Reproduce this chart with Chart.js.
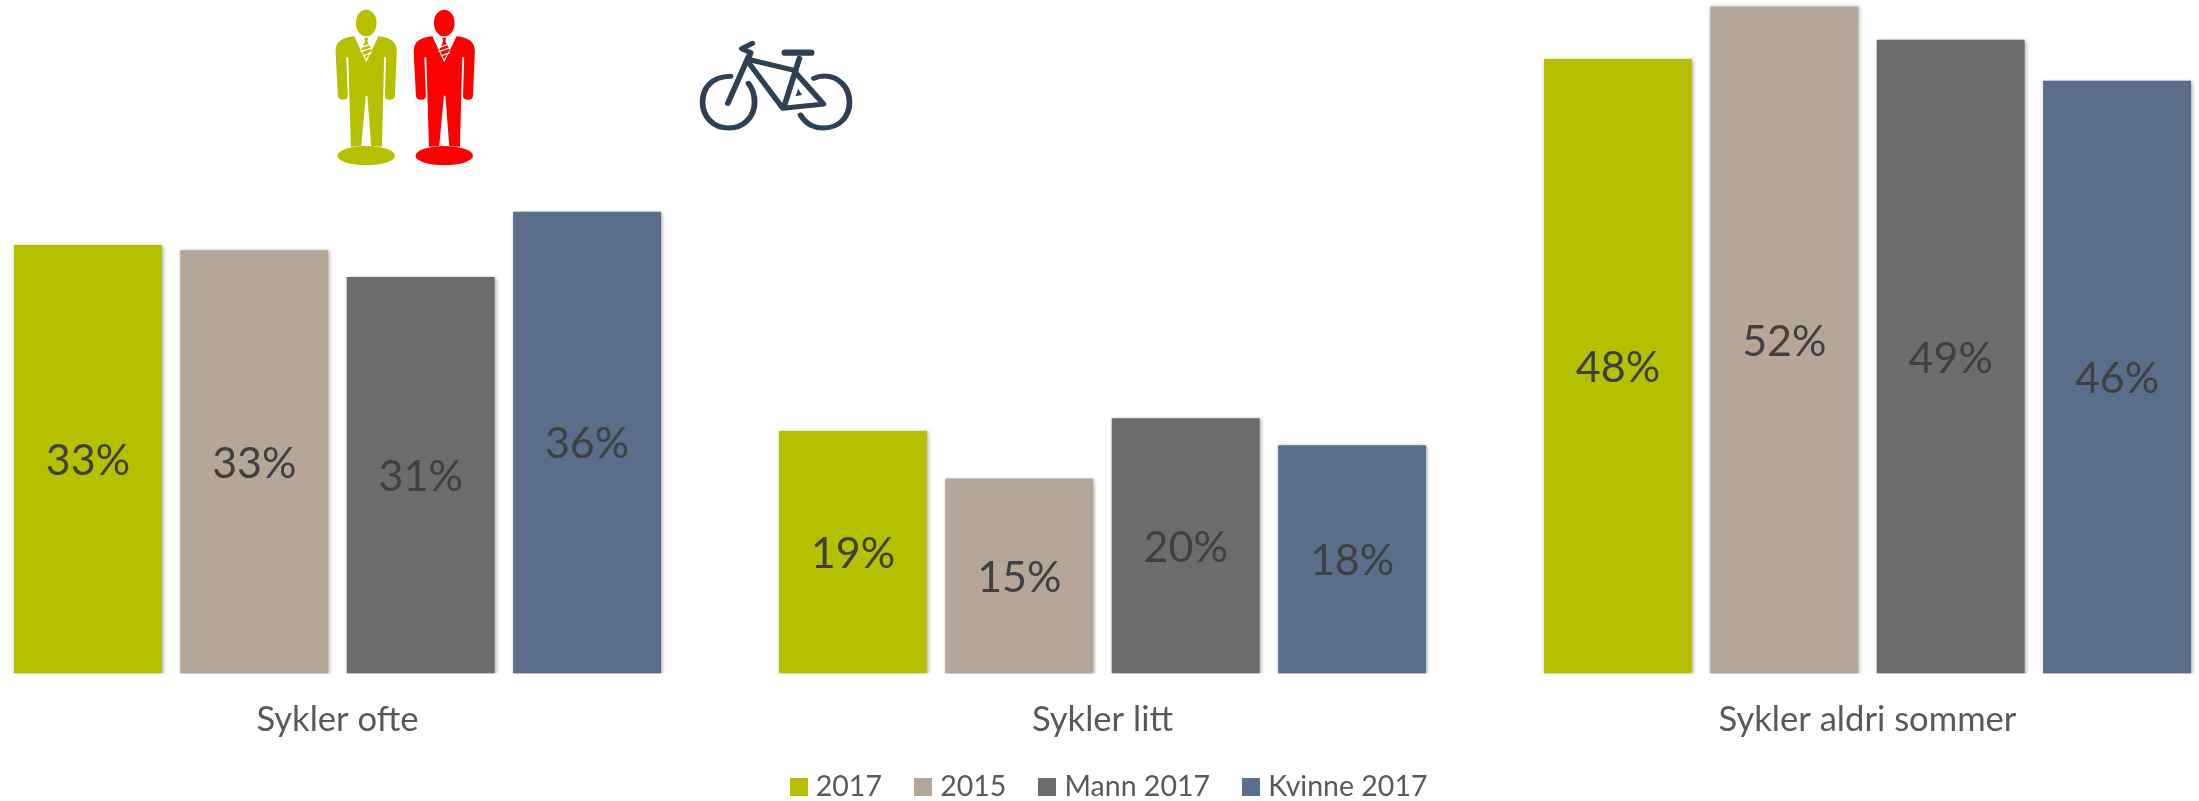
<!DOCTYPE html>
<html><head><meta charset="utf-8">
<script src="https://cdn.jsdelivr.net/npm/chart.js@4"></script>
<style>
html,body{margin:0;padding:0;background:#fff;width:2199px;height:801px;overflow:hidden}
#wrap{position:absolute;left:-45px;top:0;width:2295px;height:801px;overflow:hidden}
#ico{position:absolute;left:300px;top:0;width:600px;height:180px}
</style></head><body>
<div id="wrap"><canvas id="c" width="2295" height="807"></canvas></div>
<svg id="ico" viewBox="0 0 1568 540" preserveAspectRatio="none">
<defs><g id="man">
<ellipse cx="173" cy="69" rx="27" ry="40"/>
<path d="M142 109C110 112 93 125 93 155L99 288Q100 299 112 299Q125 299 125 288L121 172L126 172L133 440L160 438L172 287L176 287L186 438L214 440L220 172L225 172L222 288Q222 299 235 299Q248 299 248 288L253 155C253 125 236 112 205 109L173 187Z"/>
<path d="M168 113L178 113L176 124L187 150L173 178L160 150L170 124Z"/>
<path d="M160 142L186 132M158 155L190 143M164 168L187 158" stroke="#fff" stroke-width="4" fill="none"/>
<ellipse cx="173" cy="467" rx="75" ry="29"/>
</g></defs>
<use href="#man" fill="#b5c000"/>
<use href="#man" x="204" fill="#ff0000"/>
<g fill="none" stroke="#2e4053" stroke-width="15" stroke-linecap="round" stroke-linejoin="round">
<path d="M1125 229C1075 230 1052 265 1052 306C1052 350 1080 384 1120 384C1160 384 1188 350 1188 306C1188 285 1182 265 1172 250"/>
<path d="M1343 235C1355 228 1362 228 1370 228C1410 228 1436 265 1436 306C1436 350 1410 384 1367 384C1340 384 1320 368 1308 345"/>
<path d="M1118 310L1172 170"/>
<path d="M1182 130L1155 146L1178 158L1172 175"/>
<path d="M1178 180L1295 212"/>
<path d="M1305 175L1265 320"/>
<path d="M1175 192L1262 325L1368 312L1298 222"/>
<path d="M1268 158L1335 158" stroke-width="19"/>
</g>
<path d="M1302 266L1312 285L1295 289Z" fill="#2e4053"/>
</svg>
<script>
const categories = ["Sykler ofte", "Sykler litt", "Sykler aldri sommer"];
const seriesNames = ["2017", "2015", "Mann 2017", "Kvinne 2017"];
const values2017 = [33.4, 18.9, 47.9];
const values2015 = [33.0, 15.2, 52.0];
const valuesMann2017 = [30.9, 19.9, 49.4];
const valuesKvinne2017 = [36.0, 17.8, 46.2];
const seriesColors = ["#b5c000", "#b5a698", "#6b6c6e", "#5a6e8c"];
const seriesValues = [values2017, values2015, valuesMann2017, valuesKvinne2017];

function swatch(color){
  const s = document.createElement("canvas"); s.width = 18; s.height = 18;
  const g = s.getContext("2d"); g.fillStyle = color; g.fillRect(0,0,18,18);
  return s;
}

const barEffects = {
  id: "barEffects",
  afterLayout(chart){
    chart.scales.x.bottom += 14;
    chart.legend.left += 9; chart.legend.right += 9;
    chart.legend.top += 4; chart.legend.bottom += 4;
  },
  beforeDatasetsDraw(chart){
    const x = chart.ctx; x.save();
    x.shadowColor = "rgba(0,0,0,0.35)"; x.shadowBlur = 4; x.shadowOffsetX = 1; x.shadowOffsetY = 1;
  },
  afterDatasetsDraw(chart){
    const x = chart.ctx; x.restore(); x.save();
    x.font = "43px Lato"; x.fillStyle = "#404040"; x.textAlign = "center"; x.textBaseline = "middle";
    chart.data.datasets.forEach((d,i)=>{
      chart.getDatasetMeta(i).data.forEach((b,j)=>{
        x.fillText(Math.round(d.data[j]) + "%", b.x, (b.y + b.base)/2 + 2);
      });
    });
    x.restore();
  }
};

new Chart(document.getElementById("c"), {
  type: "bar",
  data: { labels: categories,
    datasets: seriesNames.map((n,i)=>({ label:n, data:seriesValues[i], backgroundColor:seriesColors[i],
      categoryPercentage:0.87, barPercentage:0.889 })) },
  plugins: [barEffects],
  options: {
    responsive:false, animation:false,
    plugins:{
      tooltip:{enabled:false},
      legend:{ position:"bottom",
        labels:{ usePointStyle:true, pointStyleWidth:6, boxHeight:18, padding:38, color:"#595959",
          font:{family:"Lato", size:28.5},
          generateLabels(chart){
            return Chart.defaults.plugins.legend.labels.generateLabels(chart).map((l,i)=>{
              l.pointStyle = swatch(seriesColors[i]); return l;
            });
          } } }
    },
    scales:{
      x:{ grid:{display:false}, border:{display:false},
          afterFit(s){ s.height = 57; },
          ticks:{ color:"#595959", font:{family:"Lato", size:34.6}, padding:18, maxRotation:0 } },
      y:{ display:false, min:0, max:52.5 }
    }
  }
});
</script>
</body></html>
